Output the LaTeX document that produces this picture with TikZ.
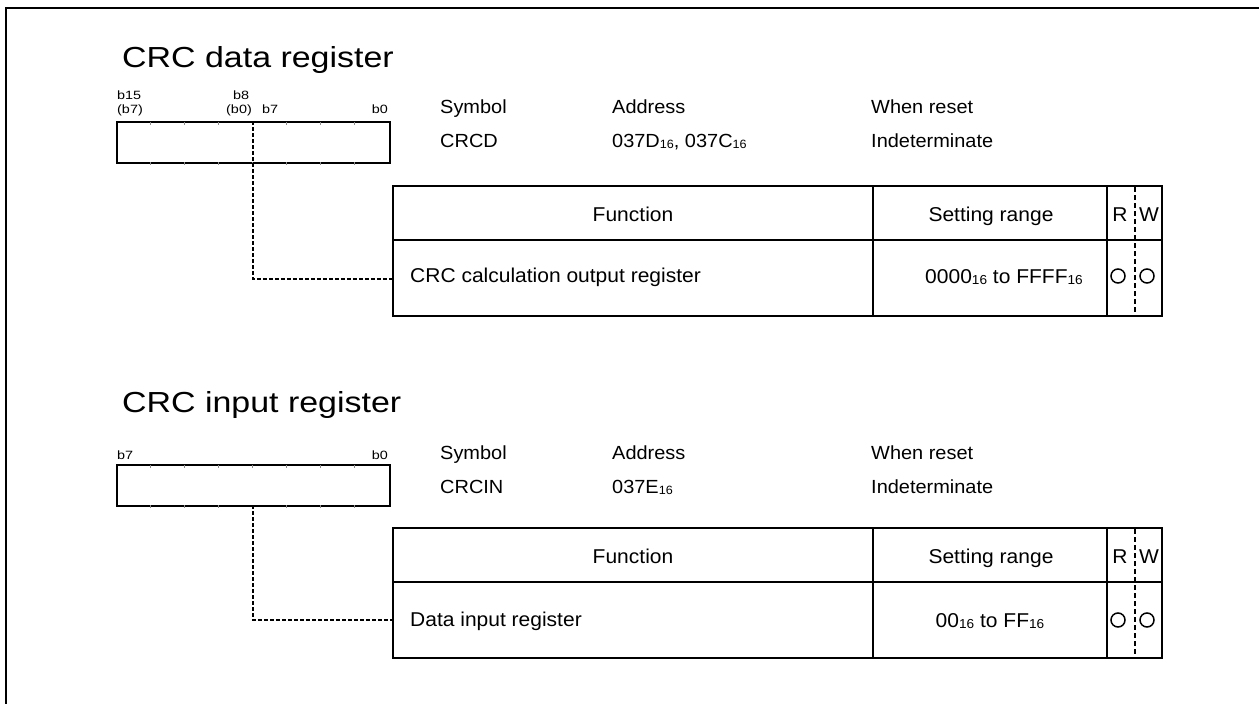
\documentclass[tikz,border=0pt]{standalone}
\usepackage{fontspec}
\setmainfont[FakeStretch=1.05]{Liberation Sans}
\newfontfamily\titlefont[FakeStretch=1.17]{Liberation Sans}
\newfontfamily\labelfont[FakeStretch=1.2]{Liberation Sans}
\newcommand\subsix{\raisebox{-1.5pt}{\fontsize{12}{12}\selectfont 16}}
\newcommand\subsixb{\raisebox{-1.5pt}{\fontsize{13}{13}\selectfont 16}}
\begin{document}
\begin{tikzpicture}[x=1pt,y=-1pt,
  frame/.style={line width=2.5pt},
  regbox/.style={draw,line width=2pt,inner sep=0pt,anchor=north west,minimum width=273pt,minimum height=41pt},
  tick/.style={draw=black!45,line width=0.8pt},
  tbl/.style={line width=2pt},
  conn/.style={line width=2pt,dash pattern=on 4pt off 2pt},
  rwdash/.style={line width=1.5pt,dash pattern=on 5pt off 3pt},
  title/.style={font=\titlefont\fontsize{29}{32}\selectfont,inner sep=0pt,anchor=base west},
  info/.style={font=\fontsize{19}{21}\selectfont,inner sep=0pt,anchor=base west},
  body/.style={font=\fontsize{20}{22}\selectfont,inner sep=0pt,anchor=base west},
  bodyc/.style={font=\fontsize{20}{22}\selectfont,inner sep=0pt,anchor=base},
  bodyr/.style={font=\fontsize{20}{22}\selectfont,inner sep=0pt,anchor=base east},
  small/.style={font=\labelfont\fontsize{12}{13}\selectfont,inner sep=0pt,anchor=base west},
  smallr/.style={font=\labelfont\fontsize{12}{13}\selectfont,inner sep=0pt,anchor=base east},
  rwcircle/.style={draw,line width=1.5pt,circle,inner sep=0pt,minimum size=14pt},
  cell/.style={inner sep=0pt,anchor=north west}
]
\useasboundingbox (0,0) rectangle (1259,704);
\fill[white] (0,0) rectangle (1259,704);
\draw[frame] (6,704) -- (6,8) -- (1259,8);

% ---------- CRC data register ----------
\node[title] (t1) at (122,67) {CRC data register};
\node[small] (l15) at (117,99) {b15};
\node[small] (l15b) at (117,113) {(b7)};
\node[small] (l8) at (233,99) {b8};
\node[small] (l8b) at (226,113) {(b0)};
\node[small] (l7) at (262,113) {b7};
\node[smallr] (l0) at (388,113) {b0};
\node[regbox] (reg1) at (116,121) {};
\foreach \k in {1,...,7}{
  \draw[tick] (116+34.125*\k,122) -- (116+34.125*\k,125);
  \draw[tick] (116+34.125*\k,162) -- (116+34.125*\k,165);
}
\node[info] (sym1) at (440,113) {Symbol};
\node[info] (adr1) at (612,113) {Address};
\node[info] (rst1) at (871,113) {When reset};
\node[info] (symv1) at (440,147) {CRCD};
\node[info] (adrv1) at (612,147) {037D\subsix, 037C\subsix};
\node[info] (rstv1) at (871,147) {Indeterminate};

\draw[tbl] (393,186) rectangle (1162,316);
\draw[tbl] (393,240) -- (1162,240);
\draw[tbl] (873,186) -- (873,316);
\draw[tbl] (1107,186) -- (1107,316);
\draw[rwdash] (1135,187) -- (1135,315);
\node[cell,minimum width=480pt,minimum height=76pt] (f1) at (393,241) {};
\node[bodyc] (fh1) at (633,221) {Function};
\node[bodyc] (sh1) at (991,221) {Setting range};
\node[bodyc] (r1) at (1120,221) {R};
\node[bodyc] (w1) at (1149,221) {W};
\node[body] (fn1) at (410,282) {CRC calculation output register};
\node[bodyr] (rg1) at (1083,283) {0000\subsixb{} to FFFF\subsixb};
\node[rwcircle] (cr1) at (1118,276) {};
\node[rwcircle] (cw1) at (1147,276) {};
\coordinate (tap1) at (253,121);
\draw[conn] (tap1) |- (f1.west);

% ---------- CRC input register ----------
\node[title] (t2) at (122,412) {CRC input register};
\node[small] (m7) at (117,459) {b7};
\node[smallr] (m0) at (388,459) {b0};
\node[regbox] (reg2) at (116,464) {};
\foreach \k in {1,...,7}{
  \draw[tick] (116+34.125*\k,465) -- (116+34.125*\k,468);
  \draw[tick] (116+34.125*\k,505) -- (116+34.125*\k,508);
}
\node[info] (sym2) at (440,459) {Symbol};
\node[info] (adr2) at (612,459) {Address};
\node[info] (rst2) at (871,459) {When reset};
\node[info] (symv2) at (440,493) {CRCIN};
\node[info] (adrv2) at (612,493) {037E\subsix};
\node[info] (rstv2) at (871,493) {Indeterminate};

\draw[tbl] (393,528) rectangle (1162,658);
\draw[tbl] (393,582) -- (1162,582);
\draw[tbl] (873,528) -- (873,658);
\draw[tbl] (1107,528) -- (1107,658);
\draw[rwdash] (1135,529) -- (1135,656);
\node[cell,minimum width=480pt,minimum height=76pt] (f2) at (393,582) {};
\node[bodyc] (fh2) at (633,563) {Function};
\node[bodyc] (sh2) at (991,563) {Setting range};
\node[bodyc] (r2) at (1120,563) {R};
\node[bodyc] (w2) at (1149,563) {W};
\node[body] (fn2) at (410,626) {Data input register};
\node[bodyc] (rg2) at (990,627) {00\subsixb{} to FF\subsixb};
\node[rwcircle] (cr2) at (1118,620) {};
\node[rwcircle] (cw2) at (1147,620) {};
\coordinate (tap2) at (253,505);
\draw[conn] (tap2) |- (f2.west);
\end{tikzpicture}
\end{document}
